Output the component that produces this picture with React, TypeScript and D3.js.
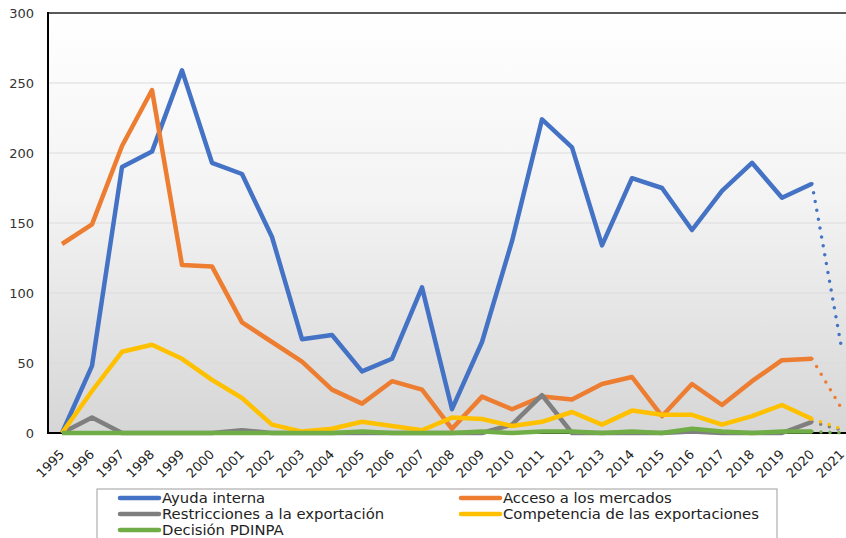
import React, { useEffect, useRef } from 'react';
import * as d3 from 'd3';

const years = ['1995','1996','1997','1998','1999','2000','2001','2002','2003','2004','2005','2006','2007','2008','2009','2010','2011','2012','2013','2014','2015','2016','2017','2018','2019','2020','2021'];

const ayudaInterna = [0,48,190,201,259,193,185,140,67,70,44,53,104,17,65,137,224,204,134,182,175,145,173,193,168,178,59];
const accesoMercados = [135,149,205,245,120,119,79,65,51,31,21,37,31,3,26,17,26,24,35,40,12,35,20,37,52,53,17];
const restricciones = [0,11,0,0,0,0,2,0,0,0,0,0,0,0,0,6,27,0,0,0,0,1,0,0,0,8,2];
const competencia = [0,30,58,63,53,38,25,6,1,3,8,5,2,11,10,5,8,15,6,16,13,13,6,12,20,10,3];
const decision = [0,0,0,0,0,0,0,0,0,0,1,0,0,0,1,0,1,1,0,1,0,3,1,0,1,1,0];

const yTicks = [0,50,100,150,200,250,300];

const series = [
  { name: 'Ayuda interna', values: ayudaInterna, color: '#4472C4' },
  { name: 'Acceso a los mercados', values: accesoMercados, color: '#ED7D31' },
  { name: 'Restricciones a la exportación', values: restricciones, color: '#7F7F7F' },
  { name: 'Competencia de las exportaciones', values: competencia, color: '#FFC000' },
  { name: 'Decisión PDINPA', values: decision, color: '#70AD47' },
];

const W = 846;
const H = 538;
const FONT = 'Verdana, DejaVu Sans, sans-serif';

export default function App() {
  const ref = useRef<SVGSVGElement>(null);

  useEffect(() => {
    const svg = d3.select(ref.current);
    svg.selectAll('*').remove();

    const margin = { top: 13, left: 48, bottom: 433 };
    const x = d3.scaleBand<string>().domain(years).range([margin.left - 1, margin.left - 1 + years.length * 30]);
    const y = d3.scaleLinear().domain([0, 300]).range([margin.bottom, margin.top]);
    const cx = (i: number) => (x(years[i]) as number) + x.bandwidth() / 2;

    const defs = svg.append('defs');
    const grad = defs.append('linearGradient').attr('id', 'bgGrad')
      .attr('x1', '0%').attr('y1', '0%').attr('x2', '0%').attr('y2', '100%');
    grad.append('stop').attr('offset', '0%').attr('stop-color', '#ffffff');
    grad.append('stop').attr('offset', '45%').attr('stop-color', '#f3f3f3');
    grad.append('stop').attr('offset', '100%').attr('stop-color', '#d6d6d6');

    svg.append('rect').attr('width', W).attr('height', H).attr('fill', '#ffffff');

    // plot background
    svg.append('rect')
      .attr('x', margin.left).attr('y', margin.top)
      .attr('width', W - margin.left).attr('height', margin.bottom - margin.top)
      .attr('fill', 'url(#bgGrad)');

    // gridlines
    svg.append('g').selectAll('line')
      .data(yTicks.filter(t => t > 0 && t < 300))
      .enter().append('line')
      .attr('x1', margin.left).attr('x2', W)
      .attr('y1', d => y(d)).attr('y2', d => y(d))
      .attr('stroke', '#dcdcdc').attr('stroke-width', 1.2);

    // top border
    svg.append('line')
      .attr('x1', margin.left).attr('x2', W)
      .attr('y1', margin.top).attr('y2', margin.top)
      .attr('stroke', '#595959').attr('stroke-width', 2);

    // axes lines
    svg.append('line')
      .attr('x1', margin.left).attr('x2', margin.left)
      .attr('y1', margin.top - 1).attr('y2', margin.bottom + 1)
      .attr('stroke', '#000').attr('stroke-width', 2);
    svg.append('line')
      .attr('x1', margin.left).attr('x2', W)
      .attr('y1', margin.bottom).attr('y2', margin.bottom)
      .attr('stroke', '#000').attr('stroke-width', 2);

    // y tick labels
    svg.append('g').selectAll('text')
      .data(yTicks).enter().append('text')
      .attr('x', 34).attr('y', d => y(d))
      .attr('dy', '0.35em')
      .attr('text-anchor', 'end')
      .attr('font-family', FONT)
      .attr('font-size', 13).attr('fill', '#333')
      .text(d => d);

    // x tick labels
    svg.append('g').selectAll('text')
      .data(years).enter().append('text')
      .attr('transform', (d, i) => `translate(${cx(i)},${margin.bottom + 19}) rotate(-45)`)
      .attr('text-anchor', 'end')
      .attr('dy', '0.35em')
      .attr('font-family', FONT)
      .attr('font-size', 13).attr('fill', '#222')
      .text(d => d);

    const line = d3.line<number>().x((d, i) => cx(i)).y(d => y(d));
    const last = years.length - 1;

    series.forEach(s => {
      const solid = s.values.slice(0, last);
      svg.append('path')
        .datum(solid)
        .attr('fill', 'none')
        .attr('stroke', s.color)
        .attr('stroke-width', 4.5)
        .attr('stroke-linejoin', 'round')
        .attr('d', line);
      const dotted = d3.line<number>()
        .x((d, i) => cx(last - 1 + i))
        .y(d => y(d));
      svg.append('path')
        .datum([s.values[last - 1], s.values[last]])
        .attr('fill', 'none')
        .attr('stroke', s.color)
        .attr('stroke-width', 3.5)
        .attr('stroke-linecap', 'round')
        .attr('stroke-dasharray', '0 9')
        .attr('d', dotted);
    });

    // legend
    const lg = svg.append('g');
    lg.append('rect')
      .attr('x', 97).attr('y', 489).attr('width', 680).attr('height', 60)
      .attr('fill', '#fff').attr('stroke', '#9e9e9e').attr('stroke-width', 1);
    const cols = [120, 461];
    const rows = [498, 514, 530];
    series.forEach((s, k) => {
      const cxl = cols[k % 2];
      const cyl = rows[Math.floor(k / 2)];
      lg.append('line')
        .attr('x1', cxl).attr('x2', cxl + 39)
        .attr('y1', cyl).attr('y2', cyl)
        .attr('stroke', s.color).attr('stroke-width', 4.5)
        .attr('stroke-linecap', 'round');
      lg.append('text')
        .attr('x', cxl + 42).attr('y', cyl)
        .attr('dy', '0.35em')
        .attr('font-family', FONT)
        .attr('font-size', 14.8).attr('fill', '#222')
        .text(s.name);
    });
  }, []);

  return (
    <svg ref={ref} width={W} height={H}
      style={{ position: 'absolute', left: 0, top: 0, display: 'block' }} />
  );
}
